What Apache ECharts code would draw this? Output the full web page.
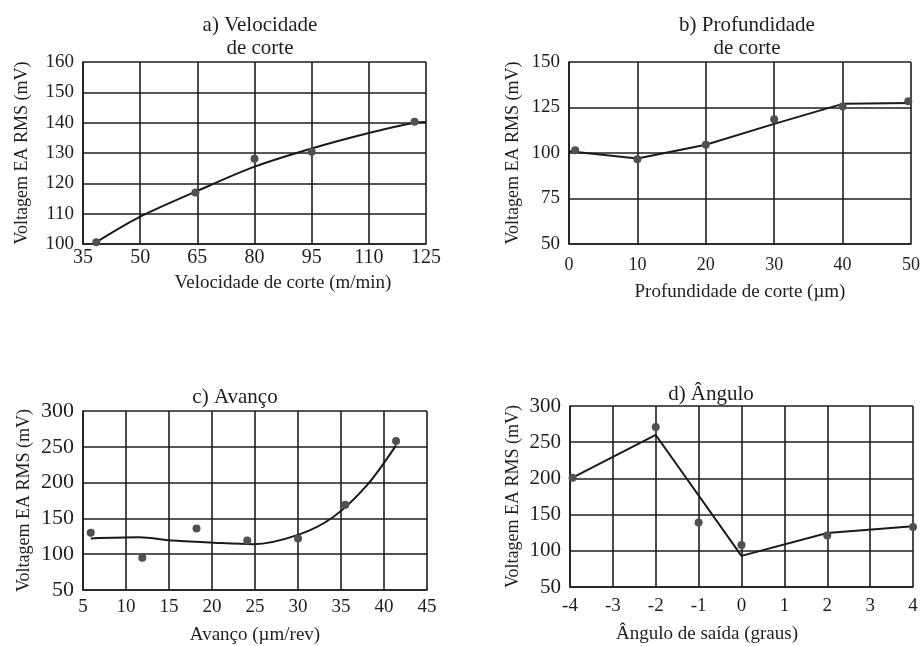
<!DOCTYPE html>
<html>
<head>
<meta charset="utf-8">
<script src="https://cdn.jsdelivr.net/npm/echarts@6/dist/echarts.min.js"></script>
<style>
  html, body { margin: 0; padding: 0; background: #fff; }
  #main { width: 923px; height: 646px; }
</style>
</head>
<body>
<div id="main"></div>
<script>
var myChart = echarts.init(document.getElementById('main'));

// a) Velocidade de corte
var velPoints = [[38.5, 100.6], [64.5, 117], [80, 128.1], [95, 130.4], [122, 140.3]];
var velCurve = [[38.5, 100.6], [50, 109], [65, 117.5], [80, 125.5], [95, 131.5], [110, 136.6], [122, 140], [125, 140.2]];

// b) Profundidade de corte
var profPoints = [[0.9, 101.5], [10, 96.5], [20, 104.5], [30, 118.6], [40, 125.5], [49.6, 128.4]];
var profLine = [[0, 101], [10, 97], [20, 104.5], [30, 116], [40, 127], [50, 127.5]];

// c) Avanço
var avPoints = [[5.9, 130], [11.9, 95], [18.2, 136], [24.1, 119], [30, 122], [35.5, 169], [41.4, 258]];
var avCurve = [[5.9, 122], [11.5, 123.5], [15.5, 119], [20.2, 116], [24.8, 114], [30, 127], [34.1, 152], [38, 196], [41.4, 252]];

// d) Ângulo
var angPoints = [[-3.94, 201], [-2, 271], [-1, 139], [0, 108], [2, 121], [4, 133]];
var angLine = [[-3.94, 201], [-2, 260], [0, 93], [2, 124.5], [4, 134]];

var serif = "'Liberation Serif', 'DejaVu Serif', serif";
var ink = '#1e1e1e';
var gridLine = { show: true, lineStyle: { color: '#1e1e1e', width: 1.6 } };
var boxLine = { show: true, onZero: false, lineStyle: { color: '#1e1e1e', width: 1.6 } };

function xAx(idx, min, max, step, name, o) {
    return {
        type: 'value', gridIndex: idx, min: min, max: max, interval: step,
        axisLine: boxLine, axisTick: { show: false }, splitLine: gridLine,
        axisLabel: { color: ink, fontFamily: serif, fontSize: o.size, margin: o.margin },
        name: name, nameLocation: 'middle', nameGap: o.gap,
        nameTextStyle: { color: ink, fontFamily: serif, fontSize: 19, padding: [0, 0, 0, o.shift] }
    };
}
function yAx(idx, min, max, step, o) {
    return {
        type: 'value', gridIndex: idx, min: min, max: max, interval: step,
        axisLine: boxLine, axisTick: { show: false }, splitLine: gridLine,
        axisLabel: { color: ink, fontFamily: serif, fontSize: o.size, margin: 9 },
        name: 'Voltagem EA RMS (mV)', nameLocation: 'middle', nameGap: o.gap,
        nameTextStyle: { color: ink, fontFamily: serif, fontSize: 18 }
    };
}
function curve(idx, data, smooth) {
    return {
        type: 'line', xAxisIndex: idx, yAxisIndex: idx, data: data, smooth: smooth,
        showSymbol: false, lineStyle: { color: '#1a1a1a', width: 2 }, z: 3
    };
}
function dots(idx, data) {
    return {
        type: 'scatter', xAxisIndex: idx, yAxisIndex: idx, data: data,
        symbolSize: 8, itemStyle: { color: '#505050', opacity: 1 }, z: 4
    };
}
function ttl(text, x, y) {
    return {
        text: text, left: x, top: y, textAlign: 'center',
        textStyle: { color: ink, fontFamily: serif, fontSize: 21, fontWeight: 'normal', lineHeight: 23 }
    };
}

var option = {
    backgroundColor: '#fff',
    animation: false,
    title: [
        ttl('a) Velocidade\nde corte', 255, 9),
        ttl('b) Profundidade\nde corte', 742, 9),
        ttl('c) Avanço', 230, 381),
        ttl('d) Ângulo', 706, 378)
    ],
    grid: [
        { left: 83, top: 62, width: 343, height: 182 },
        { left: 569, top: 62, width: 345, height: 182 },
        { left: 83, top: 411, width: 344, height: 179 },
        { left: 570, top: 406, width: 343, height: 181 }
    ],
    xAxis: [
        xAx(0, 35, 125, 15, 'Velocidade de corte (m/min)', { size: 20, margin: 4, gap: 30, shift: 57 }),
        xAx(1, 0, 50, 10, 'Profundidade de corte (µm)', { size: 18, margin: 12, gap: 39, shift: 0 }),
        xAx(2, 5, 45, 5, 'Avanço (µm/rev)', { size: 19, margin: 8, gap: 36, shift: 0 }),
        xAx(3, -4, 4, 1, 'Ângulo de saída (graus)', { size: 19, margin: 10, gap: 38, shift: -69 })
    ],
    yAxis: [
        yAx(0, 100, 160, 10, { size: 19, gap: 52 }),
        yAx(1, 50, 150, 25, { size: 19, gap: 47 }),
        yAx(2, 50, 300, 50, { size: 22, gap: 50 }),
        yAx(3, 50, 300, 50, { size: 21, gap: 48 })
    ],
    series: [
        curve(0, velCurve, 0.3), dots(0, velPoints),
        curve(1, profLine, false), dots(1, profPoints),
        curve(2, avCurve, 0.3), dots(2, avPoints),
        curve(3, angLine, false), dots(3, angPoints)
    ]
};

myChart.setOption(option);
</script>
</body>
</html>
